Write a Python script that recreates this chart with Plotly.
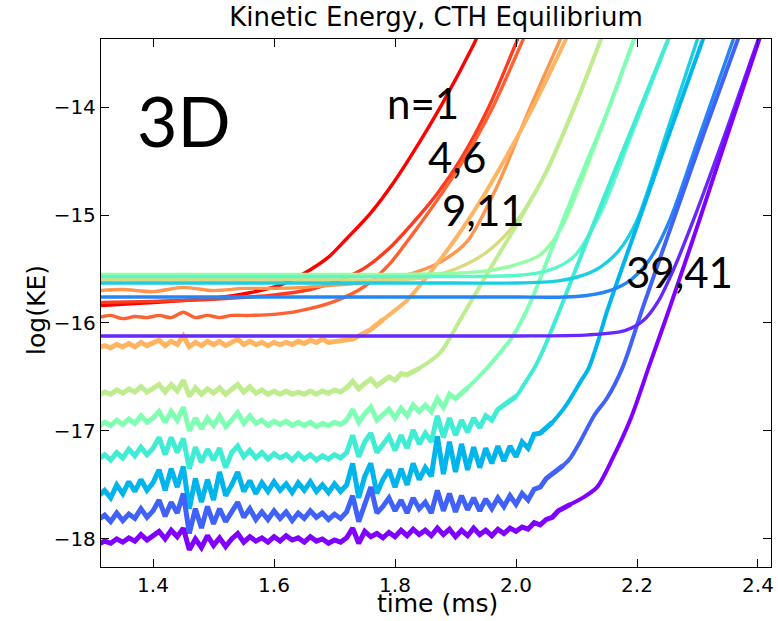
import plotly.graph_objects as go

# ---------------- data ----------------
T0, DT = 1.31, 0.01  # start and spacing of the sampled noisy baselines

# mode numbers and colours (rainbow, red = n=1 ... violet = n=41)
MODES = [1, 4, 6, 9, 11, 14, 16, 19, 21, 24, 26, 29, 31, 34, 36, 39, 41]
COLORS = {1: "#ff0000", 4: "#ff3b1e", 6: "#ff6232", 9: "#ff964f", 11: "#ffb462",
          14: "#d9da80", 16: "#bfec8e", 19: "#99fca5", 21: "#80ffb4", 24: "#59f8c8",
          26: "#40ecd4", 29: "#1acee3", 31: "#00b4ec", 34: "#2685f5", 36: "#4062fa",
          39: "#6628fe", 41: "#8000ff"}

# smooth curves: (time, logKE) points
T_1 = [1.31, 1.40, 1.50, 1.56, 1.61, 1.65, 1.69, 1.72, 1.76, 1.80, 1.84, 1.88, 1.93, 1.945]
V_1 = [-15.84, -15.81, -15.77, -15.72, -15.65, -15.54, -15.39, -15.22, -14.98, -14.68, -14.33,
       -13.95, -13.42, -13.24]
T_4 = [1.31, 1.40, 1.50, 1.60, 1.66, 1.71, 1.75, 1.79, 1.83, 1.87, 1.91, 1.955, 2.015]
V_4 = [-15.81, -15.80, -15.78, -15.74, -15.69, -15.60, -15.49, -15.31, -15.07, -14.80, -14.47, -14.00, -13.20]
T_6 = [1.31, 1.33, 1.35, 1.37, 1.39, 1.41, 1.43, 1.45, 1.47, 1.49, 1.51, 1.53, 1.56, 1.60, 1.64, 1.70,
       1.75, 1.79, 1.83, 1.87, 1.91, 1.96, 2.025]
V_6 = [-15.95, -15.93, -15.96, -15.94, -15.95, -15.93, -15.95, -15.90, -15.95, -15.93, -15.95, -15.93,
       -15.93, -15.92, -15.89, -15.80, -15.66, -15.46, -15.17, -14.86, -14.52, -14.02, -13.20]
T_9 = [1.31, 1.35, 1.40, 1.45, 1.50, 1.55, 1.60, 1.65, 1.70, 1.74, 1.78, 1.81, 1.84, 1.88, 1.92, 1.97, 2.02, 2.087]
V_9 = [-15.70, -15.69, -15.71, -15.67, -15.70, -15.68, -15.68, -15.67, -15.65, -15.63, -15.60, -15.57,
       -15.52, -15.42, -15.24, -14.72, -14.05, -13.20]
T_14 = [1.31, 1.50, 1.70, 1.80, 1.85, 1.90, 1.95, 1.99, 2.02, 2.05, 2.10, 2.152]
V_14 = [-15.60, -15.60, -15.60, -15.60, -15.58, -15.50, -15.35, -15.14, -14.90, -14.60, -13.96, -13.20]
T_19 = [1.31, 1.60, 1.80, 1.90, 1.96, 2.00, 2.04, 2.075, 2.11, 2.15, 2.206]
V_19 = [-15.55, -15.55, -15.55, -15.54, -15.51, -15.46, -15.37, -15.12, -14.66, -14.06, -13.20]
T_24 = [1.31, 1.60, 1.90, 2.00, 2.05, 2.08, 2.10, 2.14, 2.19, 2.264]
V_24 = [-15.57, -15.57, -15.57, -15.56, -15.52, -15.45, -15.36, -14.98, -14.27, -13.20]
T_29 = [1.31, 1.60, 1.90, 2.00, 2.07, 2.11, 2.14, 2.17, 2.20, 2.25, 2.31]
V_29 = [-15.63, -15.63, -15.63, -15.63, -15.61, -15.56, -15.48, -15.33, -15.05, -14.22, -13.20]
T_34 = [1.31, 1.60, 1.90, 2.00, 2.10, 2.155, 2.19, 2.22, 2.254, 2.30, 2.37]
V_34 = [-15.76, -15.76, -15.76, -15.76, -15.755, -15.70, -15.60, -15.42, -15.05, -14.32, -13.20]
T_39 = [1.31, 1.60, 1.90, 2.00, 2.12, 2.18, 2.21, 2.235, 2.26, 2.293, 2.35, 2.41]
V_39 = [-16.12, -16.12, -16.12, -16.12, -16.11, -16.07, -15.98, -15.80, -15.51, -15.05, -14.18, -13.22]

# noisy curves: baseline sampled every DT from T0, then the growth phase
NOISE_11 = [-16.23, -16.21, -16.23, -16.20, -16.22, -16.19, -16.22, -16.18, -16.21, -16.19,
            -16.16, -16.21, -16.17, -16.20, -16.12, -16.22, -16.18, -16.21, -16.17, -16.20,
            -16.17, -16.21, -16.18, -16.15, -16.20, -16.17, -16.20, -16.18, -16.21, -16.18,
            -16.20, -16.18, -16.20, -16.17, -16.19, -16.16, -16.18, -16.15, -16.18, -16.17,
            -16.17, -16.16, -16.15, -16.12, -16.09, -16.06]
RISE_T_11 = [1.78, 1.82, 1.86, 1.90, 1.94, 1.98, 2.03, 2.097]
RISE_V_11 = [-15.97, -15.79, -15.52, -15.22, -14.88, -14.50, -13.98, -13.20]

NOISE_16 = [-16.67, -16.64, -16.66, -16.62, -16.65, -16.61, -16.64, -16.59, -16.64, -16.61,
            -16.57, -16.64, -16.57, -16.63, -16.53, -16.68, -16.60, -16.66, -16.61, -16.65,
            -16.60, -16.66, -16.62, -16.57, -16.64, -16.59, -16.65, -16.62, -16.66, -16.63,
            -16.66, -16.63, -16.66, -16.64, -16.66, -16.63, -16.66, -16.63, -16.65, -16.62,
            -16.64, -16.60, -16.54, -16.61, -16.56, -16.52, -16.58, -16.54, -16.50, -16.53,
            -16.47, -16.48]
RISE_T_16 = [1.84, 1.874, 1.91, 1.957, 2.00, 2.05, 2.10, 2.152]
RISE_V_16 = [-16.42, -16.28, -15.95, -15.50, -15.10, -14.60, -13.95, -13.20]

NOISE_21 = [-16.96, -16.92, -16.95, -16.90, -16.94, -16.89, -16.93, -16.86, -16.92, -16.88,
            -16.82, -16.92, -16.82, -16.90, -16.78, -17.00, -16.88, -16.98, -16.88, -16.95,
            -16.86, -16.96, -16.90, -16.83, -16.93, -16.86, -16.93, -16.90, -16.95, -16.91,
            -16.94, -16.91, -16.95, -16.92, -16.95, -16.92, -16.96, -16.93, -16.95, -16.92,
            -16.94, -16.90, -16.80, -16.92, -16.84, -16.78, -16.90, -16.85, -16.80, -16.88,
            -16.79, -16.86, -16.76, -16.82, -16.76, -16.82, -16.70, -16.78, -16.66, -16.70]
RISE_T_21 = [1.92, 1.945, 1.97, 1.995, 2.023, 2.06, 2.10, 2.15, 2.206]
RISE_V_21 = [-16.60, -16.46, -16.30, -16.12, -15.82, -15.30, -14.74, -14.06, -13.20]

NOISE_26 = [-17.26, -17.22, -17.27, -17.20, -17.25, -17.17, -17.23, -17.15, -17.22, -17.16,
            -17.06, -17.22, -17.06, -17.20, -17.07, -17.35, -17.15, -17.29, -17.17, -17.27,
            -17.16, -17.34, -17.20, -17.14, -17.24, -17.18, -17.25, -17.20, -17.26, -17.21,
            -17.25, -17.22, -17.27, -17.21, -17.26, -17.22, -17.27, -17.23, -17.26, -17.22,
            -17.25, -17.20, -17.04, -17.24, -17.10, -17.02, -17.20, -17.12, -17.05, -17.18,
            -17.04, -17.16, -16.99, -17.12, -17.02, -17.10, -16.86, -17.06, -16.88, -17.04,
            -16.90, -17.01, -16.88, -16.97, -16.86, -16.90, -16.80, -16.76]
RISE_T_26 = [2.00, 2.012, 2.03, 2.045, 2.06, 2.078, 2.12, 2.17, 2.21, 2.264]
RISE_V_26 = [-16.68, -16.58, -16.42, -16.25, -16.05, -15.80, -15.20, -14.50, -13.95, -13.20]

NOISE_31 = [-17.60, -17.55, -17.62, -17.50, -17.58, -17.47, -17.56, -17.45, -17.55, -17.48,
            -17.36, -17.55, -17.35, -17.52, -17.33, -17.72, -17.44, -17.66, -17.45, -17.64,
            -17.38, -17.60, -17.50, -17.38, -17.56, -17.46, -17.58, -17.48, -17.56, -17.47,
            -17.55, -17.49, -17.57, -17.48, -17.55, -17.47, -17.56, -17.50, -17.57, -17.49,
            -17.56, -17.50, -17.30, -17.62, -17.42, -17.30, -17.58, -17.45, -17.36, -17.52,
            -17.35, -17.50, -17.30, -17.45, -17.34, -17.42, -17.05, -17.40, -17.10, -17.38,
            -17.12, -17.36, -17.15, -17.34, -17.16, -17.30, -17.14, -17.28, -17.14, -17.24,
            -17.10, -17.16, -17.03, -17.02]
RISE_T_31 = [2.06, 2.078, 2.09, 2.106, 2.12, 2.135, 2.15, 2.20, 2.25, 2.32]
RISE_V_31 = [-16.92, -16.80, -16.70, -16.55, -16.42, -16.18, -15.90, -15.10, -14.30, -13.20]

NOISE_36 = [-17.82, -17.78, -17.84, -17.76, -17.83, -17.77, -17.81, -17.72, -17.80, -17.74,
            -17.64, -17.79, -17.66, -17.76, -17.58, -17.95, -17.72, -17.90, -17.70, -17.86,
            -17.72, -17.84, -17.75, -17.66, -17.80, -17.72, -17.82, -17.75, -17.82, -17.74,
            -17.81, -17.75, -17.83, -17.76, -17.81, -17.74, -17.80, -17.76, -17.82, -17.77,
            -17.81, -17.75, -17.60, -17.84, -17.68, -17.52, -17.76, -17.70, -17.62, -17.74,
            -17.64, -17.76, -17.62, -17.72, -17.66, -17.76, -17.55, -17.74, -17.58, -17.75,
            -17.60, -17.73, -17.62, -17.74, -17.63, -17.72, -17.62, -17.70, -17.60, -17.68,
            -17.58, -17.64, -17.54, -17.52, -17.44, -17.40]
RISE_T_36 = [2.078, 2.09, 2.106, 2.13, 2.15, 2.177, 2.21, 2.26, 2.31, 2.378]
RISE_V_36 = [-17.32, -17.25, -17.10, -16.85, -16.70, -16.40, -15.85, -15.05, -14.25, -13.20]

NOISE_41 = [-18.05, -18.02, -18.04, -18.00, -18.03, -17.99, -18.02, -17.96, -18.01, -17.97,
            -17.93, -18.00, -17.92, -17.98, -17.90, -18.10, -18.00, -18.08, -17.97, -18.06,
            -17.99, -18.07, -18.00, -17.95, -18.03, -17.98, -18.02, -17.99, -18.03, -17.98,
            -18.02, -17.97, -18.01, -17.99, -18.03, -17.98, -18.02, -18.00, -18.04, -18.01,
            -18.03, -17.99, -17.90, -18.04, -17.93, -17.98, -17.95, -17.99, -17.94, -17.98,
            -17.92, -17.97, -17.91, -17.96, -17.92, -17.97, -17.90, -17.96, -17.91, -17.98,
            -17.92, -17.97, -17.90, -17.96, -17.92, -17.97, -17.91, -17.95, -17.90, -17.93,
            -17.89, -17.91, -17.85, -17.87, -17.82, -17.80, -17.74]
RISE_T_41 = [2.09, 2.11, 2.134, 2.16, 2.19, 2.22, 2.254, 2.30, 2.35, 2.41]
RISE_V_41 = [-17.68, -17.62, -17.52, -17.25, -16.88, -16.40, -15.86, -15.10, -14.25, -13.24]

X_TICKS = [1.4, 1.6, 1.8, 2.0, 2.2, 2.4]
X_TICK_TEXT = ["1.4", "1.6", "1.8", "2.0", "2.2", "2.4"]
Y_TICKS = [-14, -15, -16, -17, -18]
Y_TICK_TEXT = ["\u221214", "\u221215", "\u221216", "\u221217", "\u221218"]

LABELS = ["3D", "n=1", "4,6", "9,11", "39,41"]
LABEL_T = [1.452, 1.847, 1.903, 1.946, 2.27]
LABEL_V = [-14.12, -13.96, -14.46, -14.95, -15.53]
LABEL_SIZE = [70, 42, 42, 42, 42]

# ---------------- build curves ----------------
smooth = {1: (T_1, V_1), 4: (T_4, V_4), 6: (T_6, V_6), 9: (T_9, V_9), 14: (T_14, V_14),
          19: (T_19, V_19), 24: (T_24, V_24), 29: (T_29, V_29), 34: (T_34, V_34), 39: (T_39, V_39)}
noisy = {11: (NOISE_11, RISE_T_11, RISE_V_11), 16: (NOISE_16, RISE_T_16, RISE_V_16),
         21: (NOISE_21, RISE_T_21, RISE_V_21), 26: (NOISE_26, RISE_T_26, RISE_V_26),
         31: (NOISE_31, RISE_T_31, RISE_V_31), 36: (NOISE_36, RISE_T_36, RISE_V_36),
         41: (NOISE_41, RISE_T_41, RISE_V_41)}

fig = go.Figure()
for n in MODES:
    if n in smooth:
        t, v = smooth[n]
        fig.add_trace(go.Scatter(x=t, y=v, mode="lines",
                                 line=dict(color=COLORS[n], width=3.4, shape="spline", smoothing=0.8),
                                 showlegend=False, hoverinfo="skip"))
    else:
        base, rt, rv = noisy[n]
        bt = [round(T0 + DT * i, 3) for i in range(len(base))]
        # noisy baseline (jagged)
        fig.add_trace(go.Scatter(x=bt + rt[:1], y=base + rv[:1], mode="lines",
                                 line=dict(color=COLORS[n], width=5, shape="linear"),
                                 showlegend=False, hoverinfo="skip"))
        # growth phase (smooth)
        fig.add_trace(go.Scatter(x=bt[-1:] + rt, y=base[-1:] + rv, mode="lines",
                                 line=dict(color=COLORS[n], width=4, shape="spline", smoothing=0.8),
                                 showlegend=False, hoverinfo="skip"))

for txt, tx, ty, sz in zip(LABELS, LABEL_T, LABEL_V, LABEL_SIZE):
    fig.add_annotation(x=tx, y=ty, xref="x", yref="y", text=txt, showarrow=False,
                       font=dict(family="Lato, 'Open Sans', sans-serif", size=sz, color="black"),
                       xanchor="center", yanchor="middle")

# axis titles placed as text in paper coordinates
fig.add_annotation(x=0.5015, y=-0.069, xref="paper", yref="paper", text="time (ms)",
                   showarrow=False, xanchor="center", yanchor="middle",
                   font=dict(family="DejaVu Sans", size=25, color="black"))
fig.add_annotation(x=-0.0955, y=0.487, xref="paper", yref="paper", text="log(KE)",
                   showarrow=False, xanchor="center", yanchor="middle", textangle=-90,
                   font=dict(family="DejaVu Sans", size=25, color="black"))

axis_common = dict(showline=True, linecolor="black", linewidth=1.3, mirror="ticks",
                   ticks="inside", ticklen=8, tickwidth=1, tickcolor="black",
                   showgrid=False, zeroline=False, automargin=False,
                   tickfont=dict(family="DejaVu Sans", size=20, color="black"))

fig.update_xaxes(range=[1.314, 2.4215], tickvals=X_TICKS, ticktext=X_TICK_TEXT, **axis_common)
fig.update_yaxes(range=[-18.26, -13.37], tickvals=Y_TICKS, ticktext=Y_TICK_TEXT, **axis_common)

fig.update_layout(
    width=778, height=621,
    margin=dict(l=101, r=7, t=39, b=54),
    paper_bgcolor="white", plot_bgcolor="white",
    title=dict(text="Kinetic Energy, CTH Equilibrium", x=0.5, xref="paper", xanchor="center",
               y=0.988, yref="container", yanchor="top",
               font=dict(family="DejaVu Sans", size=26, color="black")),
)

# remove the page's default body margin so the figure sits at the window origin
fig.write_html("out.html", config={"displayModeBar": False},
               post_script="document.body.style.margin='0';document.body.style.padding='0';")
